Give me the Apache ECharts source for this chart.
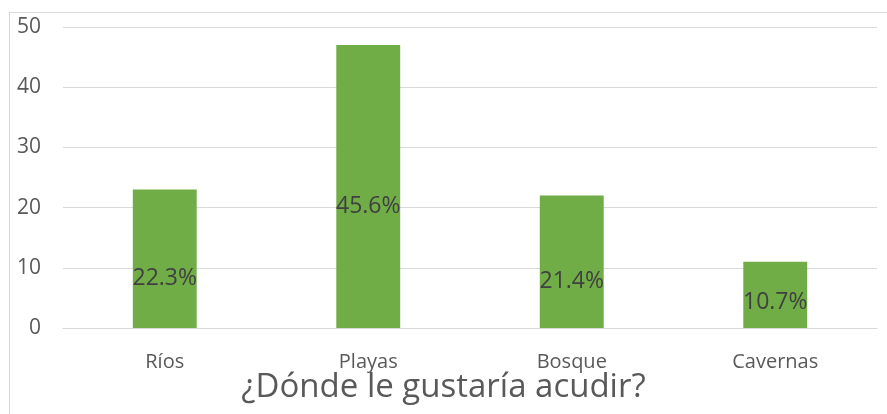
<!DOCTYPE html>
<html>
<head>
<meta charset="utf-8">
<script src="https://cdn.jsdelivr.net/npm/echarts@6/dist/echarts.min.js"></script>
<style>
  html, body { margin: 0; padding: 0; background: #fff; }
  #wrap { position: relative; width: 887px; height: 414px; overflow: hidden; }
  #frame { position: absolute; left: 9px; top: 12px; width: 900px; height: 420px;
           border-left: 1px solid #d9d9d9; border-top: 1px solid #d9d9d9; }
  #chart { position: absolute; left: 0; top: 0; width: 887px; height: 414px; }
</style>
</head>
<body>
<div id="wrap">
  <div id="frame"></div>
  <div id="chart"></div>
</div>
<script>
const categories = ['Ríos', 'Playas', 'Bosque', 'Cavernas'];
const counts = [23, 47, 22, 11];
const percents = ['22.3%', '45.6%', '21.4%', '10.7%'];
const yTicks = [0, 10, 20, 30, 40, 50];

const font = '"Open Sans", "Noto Sans", sans-serif';

const chart = echarts.init(document.getElementById('chart'), null, { renderer: 'canvas' });

chart.setOption({
  animation: false,
  title: {
    text: '¿Dónde le gustaría acudir?',
    left: 'center',
    top: 366,
    textStyle: { fontFamily: font, fontSize: 33, fontWeight: 'normal', color: '#595959' }
  },
  grid: { left: 63, right: 10, top: 27, bottom: 86 },
  xAxis: {
    type: 'category',
    data: categories,
    axisLine: { lineStyle: { color: '#d9d9d9', width: 1 } },
    axisTick: { show: false },
    axisLabel: { fontFamily: font, fontSize: 20, color: '#595959', margin: 24 }
  },
  yAxis: {
    type: 'value',
    min: yTicks[0],
    max: yTicks[yTicks.length - 1],
    interval: 10,
    axisLine: { show: false },
    axisTick: { show: false },
    splitLine: { lineStyle: { color: '#d9d9d9', width: 1 } },
    axisLabel: { fontFamily: font, fontSize: 21, color: '#595959', margin: 22 }
  },
  series: [{
    type: 'bar',
    barWidth: '31.4%',
    itemStyle: { color: '#70ad47' },
    data: counts.map((v, i) => ({
      value: v,
      label: {
        show: true,
        position: 'inside',
        offset: [0, i === 3 ? 8 : 20],
        formatter: percents[i],
        fontFamily: font,
        fontSize: 23,
        color: '#404040'
      }
    }))
  }]
});
</script>
</body>
</html>
